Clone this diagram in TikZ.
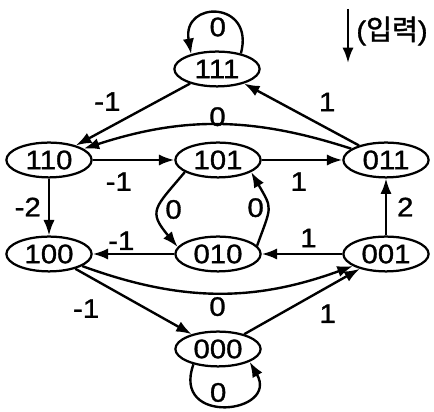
\documentclass[tikz,border=0pt]{standalone}
\usepackage{fontspec}
\setmainfont{Liberation Sans}[FakeStretch=1.1,FakeBold=1.2]
\newfontfamily\hangul{Noto Sans CJK KR}[FakeBold=1.2]
\usetikzlibrary{arrows.meta,shapes.geometric}

\begin{document}
\begin{tikzpicture}[x=0.025cm,y=0.025cm,>={Latex[length=11pt,width=8pt]},
    line width=1.7pt,inner sep=2pt,
    font=\fontsize{19}{22}\selectfont,
    state/.style={draw,ellipse,line width=1.6pt,inner sep=0pt,
        minimum width=2.13cm,minimum height=0.87cm}]
    \useasboundingbox (0,0) rectangle (434,412);

    % Draw the states
    \node[state] (s111) at (217,343) {111};
    \node[state] (s110) at (49,252) {110};
    \node[state] (s101) at (218,252) {101};
    \node[state] (s011) at (386,252) {011};
    \node[state] (s100) at (49,158) {100};
    \node[state] (s010) at (218,158) {010};
    \node[state] (s001) at (386,158) {001};
    \node[state] (s000) at (218,63) {000};

    % Input arrow
    \coordinate (inTop) at (348,403);
    \coordinate (inBot) at (348,349);
    \draw[->] (inTop) -- (inBot);
    \node (inLabel) at (392,381) {({\hangul\fontsize{20}{22}\selectfont 입력})};

    % Self loops
    \draw[->] (s111.33) .. controls +(75:55) and +(100:55) .. node[midway,below] {0} (s111.150);
    \draw[->] (s000.212) .. controls +(250:66) and +(-60:60) .. node[pos=0.45,above] {0} (s000.-22);

    % Upper transitions
    \draw[->] (s111) -- node[pos=0.55,above left=2pt] {-1} (s110);
    \draw[->] (s011) -- node[pos=0.42,above right=3pt] {1} (s111);
    \draw[->] (s011) to[bend right=18] node[midway,above=-4pt] {0} (s110);
    \draw[->] (s110) -- node[pos=0.32,below=6pt] {-1} (s101);
    \draw[->] (s101) -- node[pos=0.46,below=6pt] {1} (s011);

    % Vertical transitions
    \draw[->] (s110) -- node[midway,left=3pt] {-2} (s100);
    \draw[->] (s001) -- node[midway,right=5pt] {2} (s011);
    \draw[->] (s101.200) to[out=230,in=130,looseness=1.6] node[midway,right=2pt] {0} (s010.170);
    \draw[->] (s010.12) to[out=70,in=-60,looseness=1.5] node[midway,left] {0} (s101.-20);

    % Lower transitions
    \draw[->] (s010) -- node[pos=0.65,above] {-1} (s100);
    \draw[->] (s001) -- node[pos=0.42,above=2pt] {1} (s010);
    \draw[->] (s100) to[bend right=20] node[midway,below] {0} (s001);
    \draw[->] (s100) -- node[pos=0.3,below left=5pt] {-1} (s000);
    \draw[->] (s000) -- node[pos=0.58,below right=3pt] {1} (s001);
\end{tikzpicture}
\end{document}
